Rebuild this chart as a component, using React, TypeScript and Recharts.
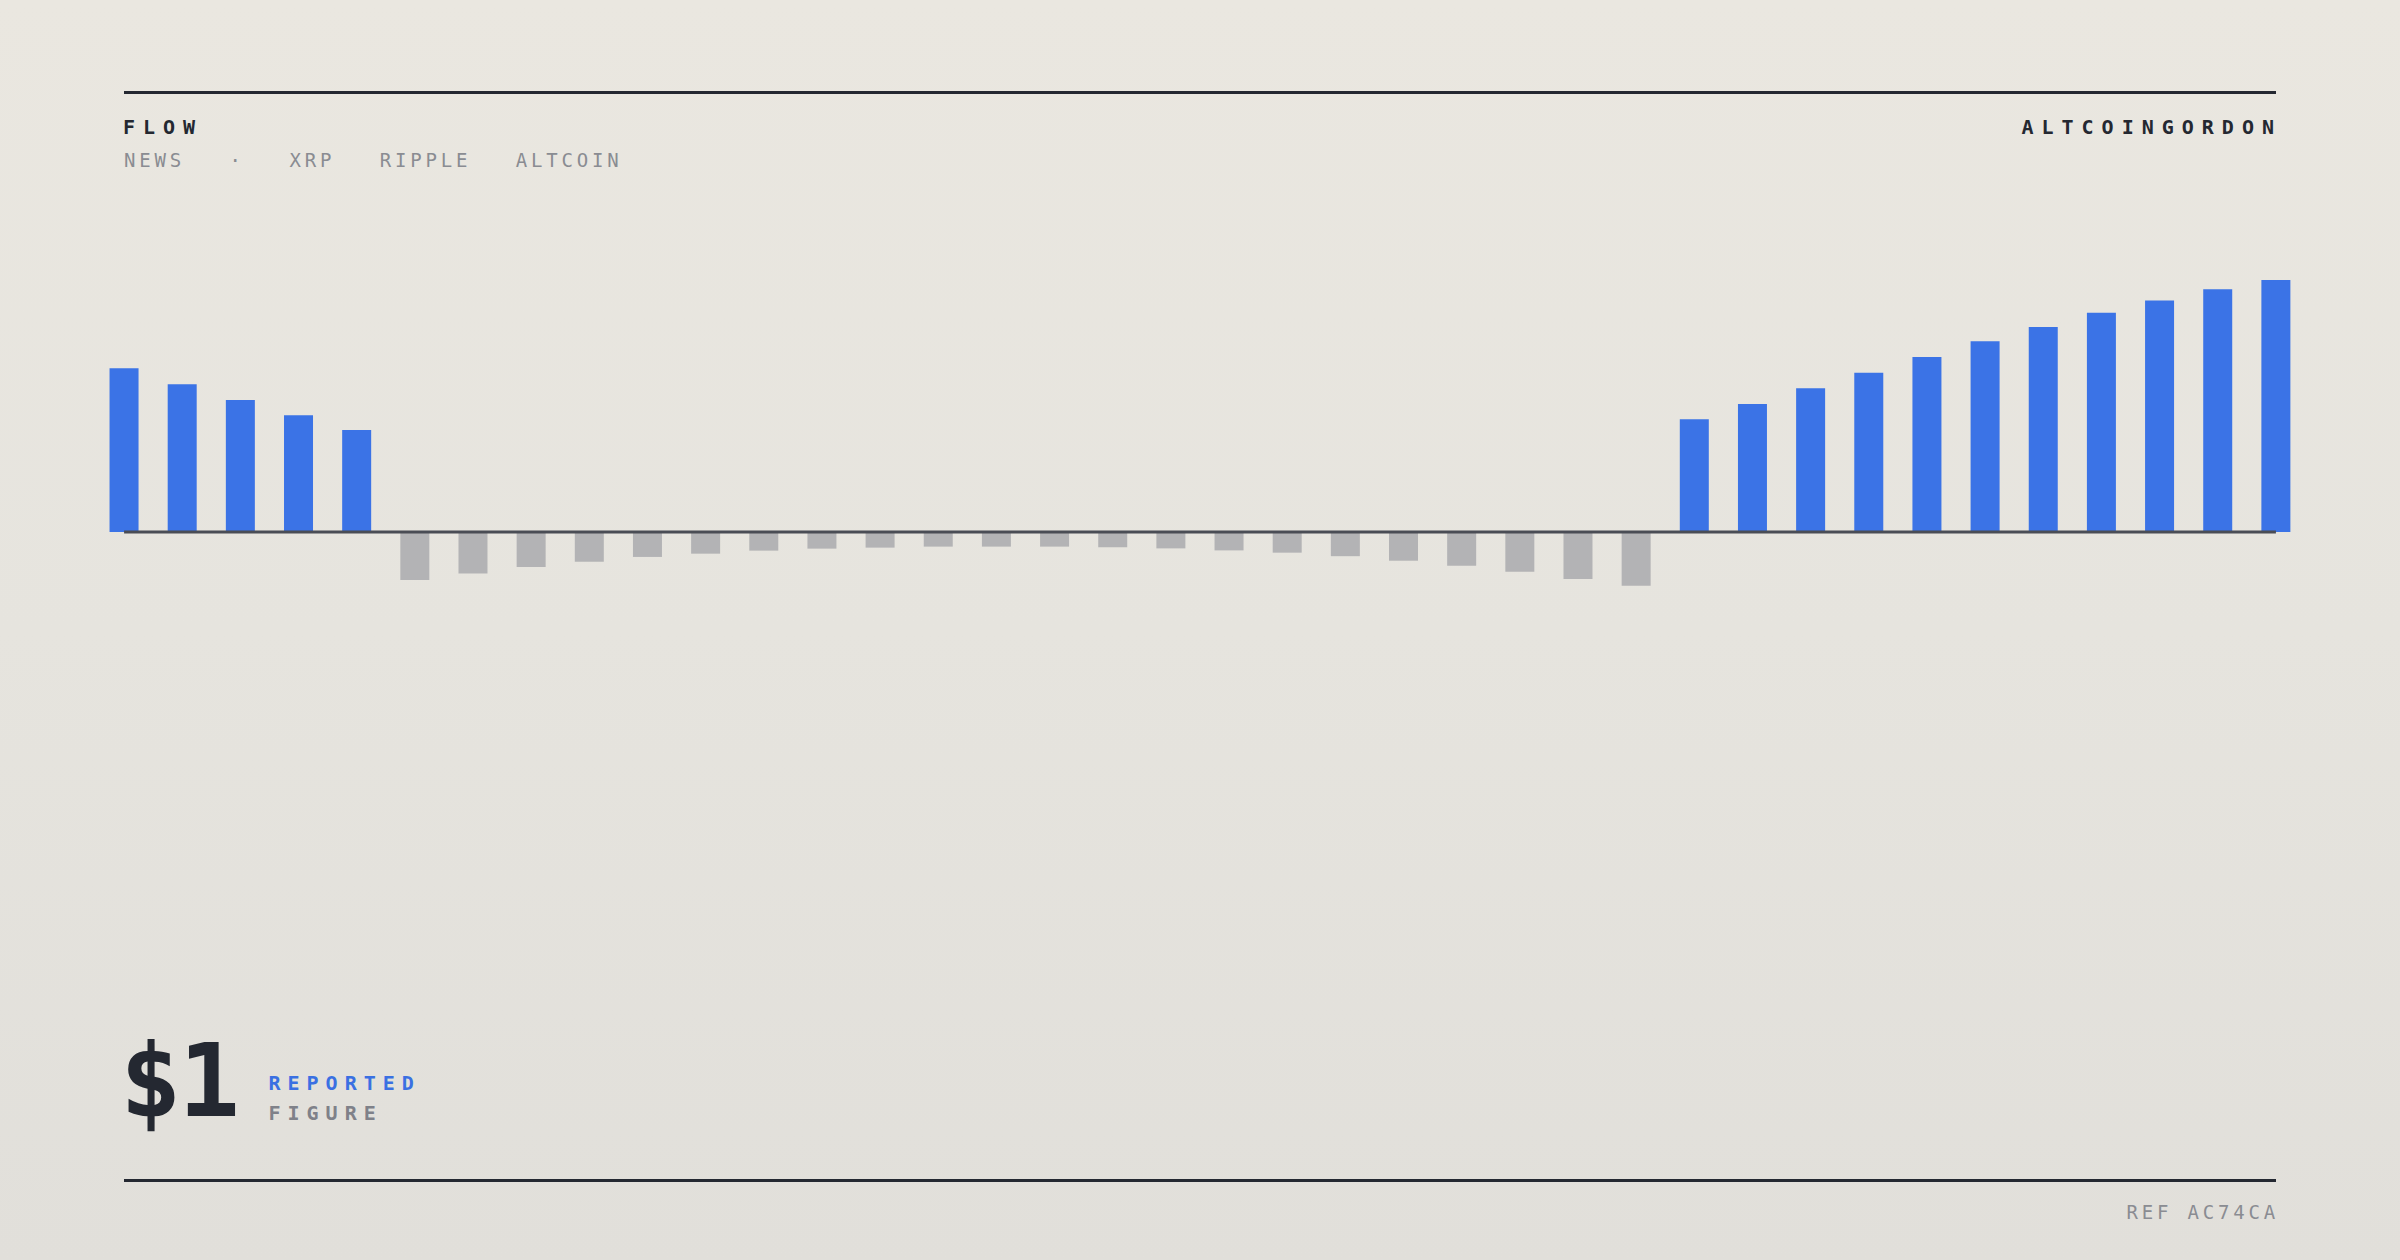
import { BarChart, Bar, Cell, XAxis, YAxis, ReferenceLine } from "recharts";

// flow per period (max bar = 100)
const openingInflows = [65.0, 58.6, 52.4, 46.3, 40.5];
const midOutflows = [
  -19.0, -16.5, -13.9, -11.8, -9.9, -8.6, -7.4, -6.6, -6.2, -5.8, -5.8,
  -5.8, -6.1, -6.5, -7.3, -8.2, -9.6, -11.4, -13.4, -15.8, -18.7, -21.3,
];
const closingInflows = [44.7, 50.8, 57.0, 63.2, 69.4, 75.7, 81.3, 87.0, 91.9, 96.3, 100];
const tags = ["NEWS", "·", "XRP", "RIPPLE", "ALTCOIN"];
const yDomain = [-100, 100];

const data = [...openingInflows, ...midOutflows, ...closingInflows].map((v, i) => ({
  period: `P${i + 1}`,
  flow: v,
}));

const INK = "#242831";
const BLUE = "#3b73e6";
const GREY = "#b3b3b5";
const MONO = '"DejaVu Sans Mono", monospace';

export default function App() {
  return (
    <div
      style={{
        position: "absolute",
        left: 0,
        top: 0,
        width: 2400,
        height: 1260,
        overflow: "hidden",
        background: "linear-gradient(180deg, #eae7e0 0%, #e6e4de 50%, #e1dfda 100%)",
        fontFamily: MONO,
      }}
    >
      <div style={{ position: "absolute", left: 124, top: 90.5, width: 2152, height: 3, background: INK }} />
      <div
        style={{
          position: "absolute",
          left: 123,
          top: 116.7,
          fontSize: 20,
          lineHeight: 1,
          fontWeight: 700,
          letterSpacing: 8,
          color: INK,
        }}
      >
        FLOW
      </div>
      <div
        style={{
          position: "absolute",
          right: 118,
          top: 116.7,
          fontSize: 20,
          lineHeight: 1,
          fontWeight: 700,
          letterSpacing: 8,
          color: INK,
        }}
      >
        ALTCOINGORDON
      </div>
      <div
        style={{
          position: "absolute",
          left: 124,
          top: 151,
          display: "flex",
          gap: 44.6,
          fontSize: 19,
          lineHeight: 1,
          letterSpacing: 3.8,
          color: "#8a8c92",
        }}
      >
        {tags.map((t) => (
          <span key={t}>{t}</span>
        ))}
      </div>

      <div style={{ position: "absolute", left: 95, top: 280 }}>
        <BarChart
          width={2210}
          height={504}
          data={data}
          margin={{ top: 0, right: 0, bottom: 0, left: 0 }}
          barCategoryGap="25%"
        >
          <XAxis dataKey="period" hide />
          <YAxis hide domain={yDomain} />
          <Bar dataKey="flow" isAnimationActive={false}>
            {data.map((d) => (
              <Cell key={d.period} fill={d.flow >= 0 ? BLUE : GREY} />
            ))}
          </Bar>
          <ReferenceLine
            segment={[
              { x: data[0].period, y: 0 },
              { x: data[data.length - 1].period, y: 0 },
            ]}
            stroke="#4a4d55"
            strokeWidth={3}
          />
        </BarChart>
      </div>

      <div
        style={{
          position: "absolute",
          left: 120,
          top: 1029.7,
          fontSize: 102,
          lineHeight: 1,
          fontWeight: 700,
          letterSpacing: -3,
          color: INK,
        }}
      >
        $1
      </div>
      <div
        style={{
          position: "absolute",
          left: 268.5,
          top: 1073,
          fontSize: 20,
          lineHeight: 1,
          fontWeight: 700,
          letterSpacing: 7,
          color: "#3a70e2",
        }}
      >
        REPORTED
      </div>
      <div
        style={{
          position: "absolute",
          left: 268.5,
          top: 1103.4,
          fontSize: 20,
          lineHeight: 1,
          fontWeight: 700,
          letterSpacing: 7,
          color: "#7f8189",
        }}
      >
        FIGURE
      </div>

      <div style={{ position: "absolute", left: 124, top: 1178.5, width: 2152, height: 3, background: INK }} />
      <div
        style={{
          position: "absolute",
          right: 121,
          top: 1202.8,
          fontSize: 19,
          lineHeight: 1,
          letterSpacing: 3.8,
          color: "#8a8c92",
        }}
      >
        REF AC74CA
      </div>
    </div>
  );
}
